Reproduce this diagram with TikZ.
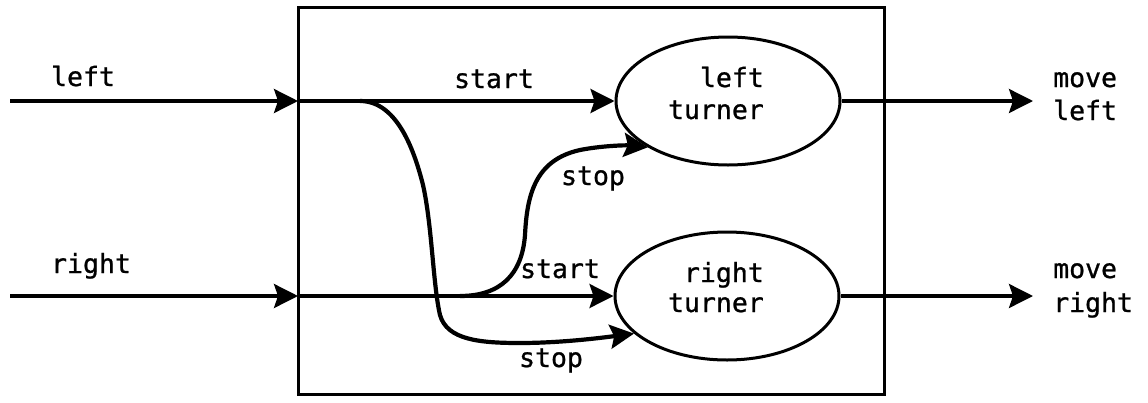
\documentclass[tikz,border=0pt]{standalone}
\usepackage{fontspec}
\setmonofont[FakeBold=0.9,AutoFakeBold=0.9]{DejaVu Sans Mono}
\usetikzlibrary{arrows.meta,shapes.geometric}
\begin{document}
\begin{tikzpicture}[x=1pt,y=-1pt,
  line/.style={line width=3.2pt},
  curve/.style={line width=4.2pt},
  arr/.style={-{Stealth[length=24pt,width=24pt,inset=4pt]}},
  turner/.style={draw,ellipse,line width=3pt,minimum width=224pt,minimum height=128pt,inner sep=0pt},
  txt/.style={font=\ttfamily\bfseries\fontsize{26.5}{32}\selectfont,inner sep=0pt}]
\useasboundingbox (0,0) rectangle (1148,402);
% box
\node[draw,line width=3pt,minimum width=586pt,minimum height=387pt,inner sep=0pt] (box) at (591,200.5) {};
% turners
\node[turner] (LT) at (728,101) {};
\node[turner] (RT) at (727,296) {};
\node[txt,anchor=base east] (LTa) at (764,87) {left};
\node[txt,anchor=base east] (LTb) at (764,119) {turner};
\node[txt,anchor=base east] (RTa) at (764,282) {right};
\node[txt,anchor=base east] (RTb) at (764,312) {turner};
% coordinates
\coordinate (inL) at (10,101);
\coordinate (inR) at (10,296);
\coordinate (eL) at (298,101);
\coordinate (eR) at (298,296);
\coordinate (jL) at (360,101);
\coordinate (jR) at (460,296);
\coordinate (outL) at (1033,101);
\coordinate (outR) at (1033,296);
% inputs
\draw[line,arr] (inL) -- (eL);
\draw[line,arr] (inR) -- (eR);
\node[txt,anchor=base] (inLt) at (83,86) {left};
\node[txt,anchor=base] (inRt) at (91,273) {right};
% start lines
\draw[line,arr] (eL) -- (LT.west);
\draw[line,arr] (eR) -- (RT.west);
\node[txt,anchor=base] (s1) at (494,88) {start};
\node[txt,anchor=base] (s2) at (560,278) {start};
% stop curves
\draw[curve,arr] (jL) .. controls (395,101) and (413,145) .. (423,185)
  .. controls (432,225) and (433,285) .. (440,315)
  .. controls (447,340) and (480,343) .. (520,343)
  .. controls (560,343) and (600,338) .. (RT.202);
\draw[curve,arr] (jR) .. controls (500,296) and (522,275) .. (525,235)
  .. controls (527,195) and (535,160) .. (580,150)
  .. controls (600,146) and (625,145) .. (LT.210);
\node[txt,anchor=base] (p1) at (593,185) {stop};
\node[txt,anchor=base] (p2) at (551,367) {stop};
% outputs
\draw[line,arr] (LT.east) -- (outL);
\draw[line,arr] (RT.east) -- (outR);
\node[txt,anchor=base west] (oLa) at (1053,87) {move};
\node[txt,anchor=base west] (oLb) at (1053,120) {left};
\node[txt,anchor=base west] (oRa) at (1053,278) {move};
\node[txt,anchor=base west] (oRb) at (1053,312) {right};
\end{tikzpicture}
\end{document}
